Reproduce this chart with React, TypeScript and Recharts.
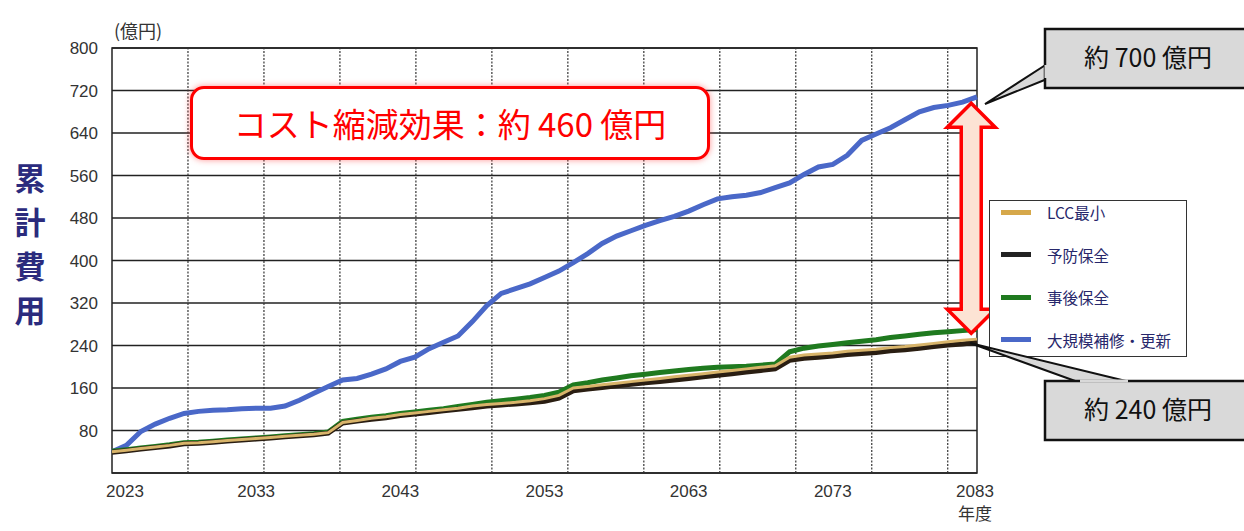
import React from 'react';
import { LineChart, Line, XAxis, YAxis, CartesianGrid, ReferenceLine, ReferenceArea } from 'recharts';

const YEARS: number[] = Array.from({ length: 61 }, (_, i) => 2023 + i);

const MAJOR: number[] = [
  40, 52, 78, 92, 103, 112, 116, 118, 119, 121,
  122, 122, 126, 137, 150, 163, 175, 178, 186, 196,
  210, 218, 234, 246, 258, 285, 315, 338, 347, 356,
  368, 380, 396, 413, 432, 446, 456, 466, 475, 483,
  493, 505, 516, 520, 523, 528, 537, 546, 562, 576,
  581, 598, 626, 638, 650, 665, 680, 688, 692, 698,
  708,
];

const LCC: number[] = [
  40, 43, 46, 49, 52, 56, 57, 59, 61, 63,
  65, 67, 69, 71, 73, 76, 95, 99, 103, 106,
  110, 113, 116, 119, 122, 126, 129, 131, 133, 136,
  140, 146, 160, 163, 166, 169, 172, 175, 178, 181,
  184, 187, 190, 193, 196, 199, 202, 218, 222, 224,
  226, 229, 231, 233, 236, 238, 241, 244, 247, 250,
  252,
];

const PREVENTIVE: number[] = [
  39, 42, 45, 48, 51, 55, 56, 58, 60, 62,
  64, 66, 68, 70, 72, 75, 94, 98, 101, 104,
  108, 111, 114, 117, 120, 123, 126, 128, 130, 132,
  135, 141, 155, 158, 161, 164, 167, 170, 172, 175,
  178, 181, 184, 187, 190, 193, 196, 212, 216, 218,
  220, 223, 225, 227, 230, 232, 235, 238, 241, 243,
  246,
];

const CORRECTIVE: number[] = [
  41, 44, 47, 50, 53, 57, 58, 60, 62, 64,
  66, 68, 70, 72, 74, 77, 97, 101, 105, 108,
  112, 115, 118, 121, 125, 129, 133, 136, 139, 142,
  146, 152, 166, 170, 175, 179, 183, 186, 189, 192,
  195, 197, 199, 200, 201, 203, 205, 228, 235, 239,
  242, 245, 248, 251, 255, 258, 261, 264, 266, 268,
  270,
];

const X_TICKS: number[] = [2023, 2033, 2043, 2053, 2063, 2073, 2083];
const Y_TICKS: number[] = [0, 80, 160, 240, 320, 400, 480, 560, 640, 720, 800];
const GRID_YEARS: number[] = [2028.27, 2033.54, 2038.81, 2044.08, 2049.35, 2054.62, 2059.89, 2065.16, 2070.43, 2075.7, 2080.97];

const SERIES = [
  { key: 'lcc', name: 'LCC最小', color: '#d6a84a' },
  { key: 'prev', name: '予防保全', color: '#222222' },
  { key: 'corr', name: '事後保全', color: '#1f7a1f' },
  { key: 'major', name: '大規模補修・更新', color: '#4a68c8' },
];

const ARROW = { year: 2082.6, top: 696, bottom: 263 };

const data = YEARS.map((y, i) => ({
  year: y,
  major: MAJOR[i],
  lcc: LCC[i],
  prev: PREVENTIVE[i],
  corr: CORRECTIVE[i],
}));

const JP = '"Noto Sans CJK JP", "Noto Sans", sans-serif';
const TICKFONT = '"Liberation Sans", Arial, sans-serif';

const XTick = (props: any) => {
  const { x, y, payload } = props;
  const v = payload.value;
  const dx = v === 2023 ? 13 : v === 2083 ? -2 : 0;
  return (
    <g>
      <text x={x + dx} y={y + 16} textAnchor="middle" fontSize={17} fill="#333" fontFamily={TICKFONT}>
        {v}
      </text>
      {v === 2083 && (
        <text x={x + dx} y={y + 39} textAnchor="middle" fontSize={17} fill="#333" fontFamily={JP}>
          年度
        </text>
      )}
    </g>
  );
};

const YTick = (props: any) => {
  const { x, y, payload } = props;
  if (payload.value === 0) return null;
  return (
    <text x={x} y={y + 6} textAnchor="end" fontSize={17} fill="#333" fontFamily={TICKFONT}>
      {payload.value}
    </text>
  );
};

const DoubleArrow = (props: any) => {
  const { x1, y1, y2 } = props;
  const x = x1;
  const top = Math.min(y1, y2);
  const bot = Math.max(y1, y2);
  const sw = 10;
  const hw = 24;
  const hl = 24;
  const pts = [
    [x, top],
    [x + hw, top + hl],
    [x + sw, top + hl],
    [x + sw, bot - hl],
    [x + hw, bot - hl],
    [x, bot],
    [x - hw, bot - hl],
    [x - sw, bot - hl],
    [x - sw, top + hl],
    [x - hw, top + hl],
  ]
    .map((p) => p.join(','))
    .join(' ');
  return <polygon points={pts} fill="#fce3d4" stroke="#ff0000" strokeWidth={3.5} strokeLinejoin="miter" />;
};

const LegendBox = () => (
  <div
    style={{
      position: 'absolute',
      left: 989,
      top: 200,
      width: 198,
      height: 157,
      boxSizing: 'border-box',
      border: '1.5px solid #333',
      background: '#fff',
      fontFamily: JP,
    }}
  >
    {SERIES.map((s, i) => (
      <div
        key={s.key}
        style={{ position: 'absolute', left: 0, top: i * 42.5, height: 22, width: '100%', display: 'flex', alignItems: 'center' }}
      >
        <div style={{ marginLeft: 11, width: 30, height: 5, background: s.color }} />
        <div style={{ marginLeft: 16, fontSize: 15.5, color: '#27276b', whiteSpace: 'nowrap' }}>{s.name}</div>
      </div>
    ))}
  </div>
);

export default function App() {
  return (
    <div style={{ position: 'absolute', left: 0, top: 0, width: 1244, height: 531, background: '#fff', overflow: 'hidden' }}>
      <LineChart width={1244} height={531} data={data} margin={{ top: 48, right: 267, bottom: 28, left: 52 }}>
        <CartesianGrid vertical={false} stroke="#222" strokeWidth={1.5} />
        <XAxis
          dataKey="year"
          type="number"
          domain={[2023, 2083]}
          ticks={X_TICKS}
          interval={0}
          axisLine={false}
          tickLine={false}
          tick={<XTick />}
          height={30}
        />
        <YAxis
          type="number"
          domain={[0, 800]}
          ticks={Y_TICKS}
          interval={0}
          axisLine={false}
          tickLine={false}
          tickSize={0}
          tickMargin={14}
          tick={<YTick />}
          width={60}
        />
        {GRID_YEARS.map((g) => (
          <ReferenceLine key={g} x={g} stroke="#333" strokeWidth={1.2} strokeDasharray="2 1.5" />
        ))}
        <ReferenceArea x1={2023} x2={2083} y1={0} y2={800} fill="none" stroke="#222" strokeWidth={1.5} ifOverflow="visible" />
        <Line dataKey="major" name="大規模補修・更新" stroke="#4a68c8" strokeWidth={5} dot={false} isAnimationActive={false} />
        <Line dataKey="corr" name="事後保全" stroke="#1f7a1f" strokeWidth={5} dot={false} isAnimationActive={false} />
        <Line dataKey="prev" name="予防保全" stroke="#2a1e12" strokeWidth={5} dot={false} isAnimationActive={false} />
        <Line dataKey="lcc" name="LCC最小" stroke="#d8b46a" strokeWidth={3} dot={false} isAnimationActive={false} />
        <ReferenceLine
          segment={[
            { x: ARROW.year, y: ARROW.top },
            { x: ARROW.year, y: ARROW.bottom },
          ]}
          ifOverflow="visible"
          shape={<DoubleArrow />}
        />
      </LineChart>

      <LegendBox />

      <div style={{ position: 'absolute', left: 114, top: 17, fontSize: 18, color: '#333', fontFamily: JP }}>(億円)</div>

      <div
        style={{
          position: 'absolute',
          left: 12,
          top: 155,
          width: 36,
          fontSize: 31,
          lineHeight: '44px',
          color: '#2b2b7d',
          fontWeight: 700,
          fontFamily: JP,
          textAlign: 'center',
        }}
      >
        <div>累</div>
        <div>計</div>
        <div>費</div>
        <div>用</div>
      </div>

      <div
        style={{
          position: 'absolute',
          left: 190,
          top: 86,
          width: 520,
          height: 74,
          boxSizing: 'border-box',
          border: '3px solid #ff0000',
          borderRadius: 14,
          background: '#fff',
          boxShadow: '0 0 6px rgba(255,60,60,0.55)',
          display: 'flex',
          alignItems: 'center',
          justifyContent: 'center',
          color: '#ff0000',
          fontSize: 33,
          fontFamily: JP,
          whiteSpace: 'nowrap',
        }}
      >
        コスト縮減効果：約 460 億円
      </div>

      <svg width={1244} height={531} style={{ position: 'absolute', left: 0, top: 0, pointerEvents: 'none' }}>
        <polygon points="1047,64 985,104 1047,79" fill="#d9d9d9" stroke="#111" strokeWidth={2} />
        <rect x={1045} y={29} width={210} height={59} fill="#d9d9d9" stroke="#111" strokeWidth={2.5} />
        <line x1={1046} y1={65} x2={1046} y2={78} stroke="#d9d9d9" strokeWidth={3} />
        <text x={1148} y={67} textAnchor="middle" fontSize={25} fill="#111" fontFamily={JP}>約 700 億円</text>

        <polygon points="1078,382 970,343 1130,382" fill="#d9d9d9" stroke="#111" strokeWidth={2} />
        <rect x={1045} y={381} width={210} height={59} fill="#d9d9d9" stroke="#111" strokeWidth={2.5} />
        <line x1={1080} y1={381} x2={1128} y2={381} stroke="#d9d9d9" strokeWidth={3} />
        <text x={1148} y={419} textAnchor="middle" fontSize={25} fill="#111" fontFamily={JP}>約 240 億円</text>
      </svg>
    </div>
  );
}
